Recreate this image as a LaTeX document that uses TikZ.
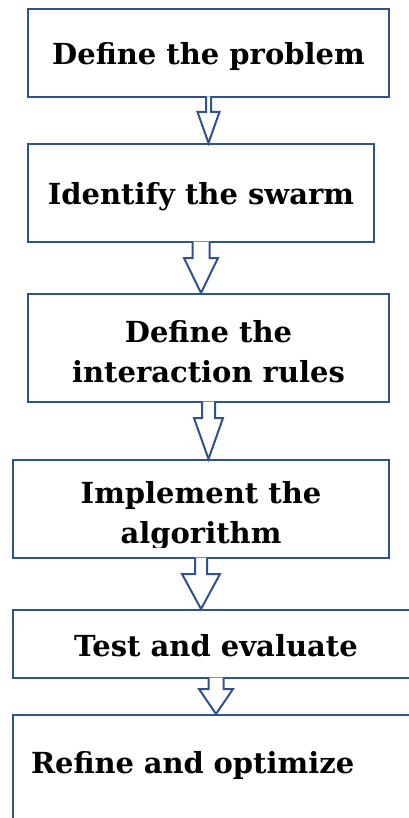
\documentclass[tikz,border=0pt]{standalone}
\usepackage{fontspec}
\setmainfont{DejaVu Serif}
\usepackage{tikz}
\usetikzlibrary{calc}
\definecolor{sblue}{RGB}{47,82,143}
\tikzstyle{box}=[rectangle,draw=sblue,fill=white,line width=2.000,align=center,font=\fontsize{29}{40}\selectfont\bfseries,text height=24pt,text depth=0pt]
\tikzstyle{tallbox}=[box,text height=68pt]
\tikzstyle{openbox}=[box,align=left,inner xsep=18pt,text width=370pt,text depth=68pt]
\tikzstyle{blockarrow}=[draw=sblue,fill=white,line width=2.000,line join=miter]
\tikzset{hollow/.style args={#1/#2/#3}{to path={let \p1=(\tikztostart), \p2=(\tikztotarget) in
  (\x1-#1pt,\y1+1.5pt) -- (\x1-#1pt,\y1-#3pt) -- (\x1-#2pt,\y1-#3pt) -- (\x1,\y2)
  -- (\x1+#2pt,\y1-#3pt) -- (\x1+#1pt,\y1-#3pt) -- (\x1+#1pt,\y1+1.5pt)}}}
\begin{document}
\begin{tikzpicture}[x=1pt,y=-1pt]
	\useasboundingbox (0,0) rectangle (409,818);
	\clip (0,0) rectangle (409,818);
	\node [style=box, minimum width=361pt, minimum height=88pt] (0) at (208.5, 53) {Define the problem};
	\node [style=box, minimum width=346pt, minimum height=98pt] (1) at (201, 193) {Identify the swarm};
	\node [style=tallbox, minimum width=361pt, minimum height=108pt] (2) at (208.5, 348) {Define the\\interaction rules};
	\begin{scope}[even odd rule]
		\clip (0,0) rectangle (409,818) (14,547) rectangle (388,557);
		\node [style=tallbox, minimum width=376pt, minimum height=98pt] (3) at (201, 509) {Implement the\\algorithm};
	\end{scope}
	\node [style=box, minimum width=406pt, minimum height=68pt] (4) at (216, 644) {Test and evaluate};
	\node [style=openbox, minimum width=406pt, minimum height=160pt] (5) at (216, 795) {Refine and optimize};
	\draw [style=blockarrow, hollow=2.5/11/14] (0.south) to (1.north);
	\draw [style=blockarrow, hollow=8.5/17/15] (1.south) to (2.north);
	\draw [style=blockarrow, hollow=6.5/14.5/15] (2.south) to (3.north);
	\draw [style=blockarrow, hollow=6/19/15] (3.south) to (4.north);
	\draw [style=blockarrow, hollow=7.5/17/10] (4.south) to (5.north);
\end{tikzpicture}
\end{document}
